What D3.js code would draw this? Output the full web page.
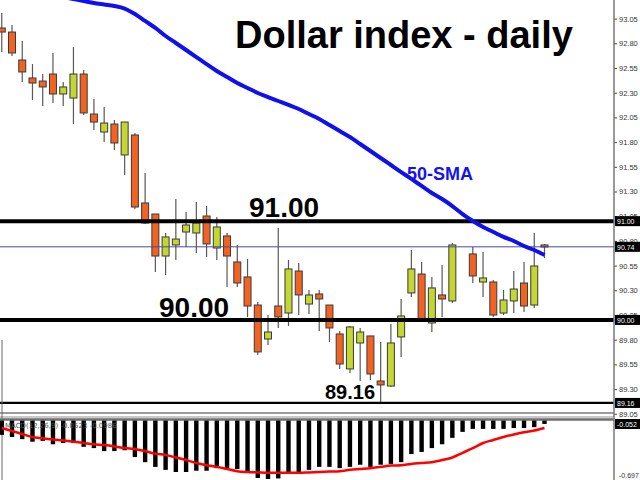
<!DOCTYPE html>
<html><head><meta charset="utf-8">
<script src="https://cdn.jsdelivr.net/npm/d3@7"></script>
<style>body{margin:0;background:#fff}svg{display:block}</style>
</head><body><svg id="c" width="640" height="480"></svg>
<script>
// ---- data (daily bars, oldest first) ----
const opens  = [92.955,92.914,92.631,92.449,92.418,92.489,92.287,92.246,92.489,92.084,91.902,91.983,91.670,91.872,91.184,91.072,90.647,90.759,90.890,90.880,91.052,90.728,90.850,90.587,90.435,90.151,89.807,90.141,90.070,90.495,90.161,90.263,90.151,89.858,89.504,89.767,89.838,89.382,89.331,89.828,90.273,90.465,89.969,90.253,90.192,90.740,90.668,90.384,90.384,90.070,90.192,90.374,90.151,90.759];
const highs  = [93.107,92.985,92.823,92.590,92.489,92.702,92.408,92.762,92.530,92.236,92.155,92.024,92.003,91.892,91.487,91.072,90.880,91.224,91.093,91.194,91.153,91.042,90.880,90.759,90.617,90.182,90.050,90.931,90.607,90.576,90.303,90.303,90.151,89.888,89.939,89.919,89.838,89.777,89.959,90.212,90.708,90.587,90.435,90.556,90.779,90.740,90.738,90.688,90.404,90.303,90.495,90.587,90.880,90.769];
const lows   = [92.712,92.671,92.408,92.226,92.165,92.196,92.165,91.983,92.074,91.922,91.801,91.720,91.467,91.123,90.971,90.485,90.455,90.607,90.738,90.678,90.637,90.607,90.334,90.334,90.030,89.645,89.747,89.919,89.939,90.050,90.060,89.888,89.777,89.504,89.463,89.382,89.392,89.160,89.321,89.625,90.233,90.010,89.878,90.030,90.172,90.740,90.374,90.233,90.030,90.050,90.070,90.080,90.121,90.627];
const closes = [92.914,92.702,92.510,92.398,92.358,92.287,92.358,92.489,92.095,92.003,91.993,91.791,92.003,91.143,90.981,90.647,90.840,90.819,90.961,90.981,90.769,90.941,90.647,90.374,90.141,89.676,89.878,90.030,90.516,90.253,90.253,90.212,89.919,89.554,89.929,89.878,89.453,89.342,89.767,90.040,90.516,90.010,90.324,90.212,90.759,90.740,90.445,90.425,90.050,90.202,90.313,90.141,90.546,90.738];
const sma50  = [null,null,null,null,null,null,93.268,93.248,93.228,93.208,93.193,93.178,93.152,93.097,93.026,92.955,92.874,92.803,92.732,92.661,92.590,92.520,92.459,92.398,92.348,92.297,92.256,92.216,92.176,92.135,92.084,92.034,91.973,91.912,91.852,91.781,91.710,91.639,91.568,91.497,91.427,91.356,91.285,91.224,91.153,91.072,91.002,90.941,90.890,90.840,90.799,90.748,90.708,90.657];
const macdMain   = [-0.18,-0.205,-0.23,-0.26,-0.25,-0.29,-0.275,-0.275,-0.32,-0.335,-0.37,-0.37,-0.36,-0.44,-0.50,-0.555,-0.59,-0.615,-0.615,-0.60,-0.60,-0.57,-0.57,-0.58,-0.625,-0.685,-0.697,-0.69,-0.625,-0.615,-0.59,-0.555,-0.555,-0.57,-0.555,-0.53,-0.555,-0.53,-0.52,-0.50,-0.405,-0.38,-0.335,-0.29,-0.215,-0.145,-0.11,-0.11,-0.11,-0.11,-0.10,-0.10,-0.09,-0.052];
const macdSignal = [-0.10,-0.135,-0.17,-0.205,-0.22,-0.235,-0.245,-0.26,-0.275,-0.29,-0.30,-0.315,-0.335,-0.345,-0.37,-0.40,-0.415,-0.445,-0.475,-0.51,-0.535,-0.555,-0.58,-0.605,-0.615,-0.62,-0.625,-0.625,-0.625,-0.625,-0.62,-0.615,-0.61,-0.605,-0.59,-0.58,-0.57,-0.555,-0.54,-0.535,-0.52,-0.51,-0.50,-0.475,-0.445,-0.39,-0.335,-0.275,-0.24,-0.205,-0.175,-0.15,-0.13,-0.10];
const priceTicks = [93.05,92.80,92.55,92.30,92.05,91.80,91.55,91.30,91.05,90.80,90.55,90.30,90.05,89.80,89.55,89.30,89.05];
const levels = [91.00, 90.00, 89.16];
const levelLabels = ["91.00", "90.00", "89.16"];
const bidPrice = 90.74;
const titleText = "Dollar index - daily";
const smaLabel = "50-SMA";
const macdLabel = "MACD(12,26,9) -0.0523 -0.0986";
const macdMin = -0.697;
const macdNow = "-0.052";

// ---- layout ----
const svg = d3.select("#c");
const axisX = 614, indTop = 419.5, indBot = 479;
const n = opens.length;
const x = d3.scaleLinear().domain([0, n - 1]).range([1.76, 544.5]);
const y = d3.scaleLinear().domain([89.05, 93.05]).range([413.8, 18.6]);
const yi = d3.scaleLinear().domain([0, macdMin]).range([indTop, indBot]);

svg.append("rect").attr("width", 640).attr("height", 480).attr("fill", "#fff");
const defs = svg.append("defs");
defs.append("clipPath").attr("id", "cm").append("rect").attr("x", 0).attr("y", 0).attr("width", axisX).attr("height", 412);
defs.append("clipPath").attr("id", "ci").append("rect").attr("x", 0).attr("y", 419).attr("width", axisX).attr("height", 61);

const main = svg.append("g").attr("clip-path", "url(#cm)");
const bars = d3.range(n).map(i => ({i, o: opens[i], h: highs[i], l: lows[i], c: closes[i]}));

// candles
const cg = main.append("g");
cg.selectAll("line.w").data(bars).join("line")
  .attr("x1", d => x(d.i)).attr("x2", d => x(d.i))
  .attr("y1", d => y(d.h)).attr("y2", d => y(d.l))
  .attr("stroke", "#585858").attr("stroke-width", 1.2);
cg.selectAll("rect.b").data(bars).join("rect")
  .attr("x", d => x(d.i) - 3.5).attr("width", 7)
  .attr("y", d => y(Math.max(d.o, d.c)))
  .attr("height", d => Math.abs(y(d.o) - y(d.c)))
  .attr("fill", d => d.c >= d.o ? "#c3d631" : "#f26322")
  .attr("stroke", "#3a3a3a").attr("stroke-width", 1);

// horizontal levels
main.selectAll("line.lv").data(levels).join("line")
  .attr("x1", 0).attr("x2", axisX)
  .attr("y1", d => y(d)).attr("y2", d => y(d))
  .attr("stroke", "#000").attr("stroke-width", (d, i) => i < 2 ? 4 : 2.2);
// bid line
main.append("line").attr("x1", 0).attr("x2", axisX)
  .attr("y1", y(bidPrice)).attr("y2", y(bidPrice))
  .attr("stroke", "#4a4a9c").attr("stroke-width", 1);

// SMA
const smaLine = d3.line().defined(d => d != null).x((d, i) => x(i)).y(d => y(d)).curve(d3.curveMonotoneX);
main.append("path").datum(sma50).attr("d", smaLine)
  .attr("fill", "none").attr("stroke", "#1010ee").attr("stroke-width", 4).attr("stroke-linejoin", "round");

// texts
svg.append("text").attr("x", 235).attr("y", 48).text(titleText)
  .attr("font-family", "Liberation Sans, Arial, sans-serif").attr("font-weight", "bold").attr("font-size", 38).attr("fill", "#000");
svg.append("text").attr("x", 407).attr("y", 180).text(smaLabel)
  .attr("font-family", "Liberation Sans, Arial, sans-serif").attr("font-weight", "bold").attr("font-size", 18).attr("fill", "#1414f0");
const lblPos = [[249, 217, 28], [159, 317, 28], [325, 399, 20]];
svg.selectAll("text.lv").data(levelLabels).join("text")
  .attr("x", (d, i) => lblPos[i][0]).attr("y", (d, i) => lblPos[i][1])
  .attr("font-size", (d, i) => lblPos[i][2])
  .attr("font-family", "Liberation Sans, Arial, sans-serif").attr("font-weight", "bold").attr("fill", "#000")
  .text(d => d);

// panel separators
svg.append("line").attr("x1", 0).attr("x2", axisX).attr("y1", 413).attr("y2", 413).attr("stroke", "#9a9a9a").attr("stroke-width", 2);
svg.append("line").attr("x1", 0).attr("x2", axisX).attr("y1", 417).attr("y2", 417).attr("stroke", "#c8c8c8").attr("stroke-width", 2);
svg.append("line").attr("x1", 2).attr("x2", 2).attr("y1", 340).attr("y2", 480).attr("stroke", "#666").attr("stroke-width", 1);

// indicator
const ind = svg.append("g").attr("clip-path", "url(#ci)");
ind.selectAll("rect").data(macdMain).join("rect")
  .attr("x", (d, i) => x(i) - 2.2).attr("width", 4.4)
  .attr("y", yi(0)).attr("height", d => yi(d) - yi(0)).attr("fill", "#000");
ind.append("path").datum(macdSignal)
  .attr("d", d3.line().x((d, i) => x(i)).y(d => yi(d)).curve(d3.curveMonotoneX))
  .attr("fill", "none").attr("stroke", "#ff0000").attr("stroke-width", 2.5);
svg.append("line").attr("x1", 0).attr("x2", axisX).attr("y1", 419.5).attr("y2", 419.5).attr("stroke", "#6e6e6e").attr("stroke-width", 2.5);
svg.append("text").attr("x", 5).attr("y", 428).text(macdLabel)
  .attr("font-family", "DejaVu Sans, sans-serif").attr("font-size", 7).attr("fill", "#555");

// right axis
const ax = svg.append("g").attr("transform", `translate(${axisX},0)`)
  .call(d3.axisRight(y).tickValues(priceTicks).tickSize(3).tickPadding(2).tickFormat(d3.format(".2f")));
ax.select(".domain").remove();
ax.selectAll("line").attr("stroke", "#444");
ax.selectAll("text").attr("font-family", "Liberation Sans, Arial, sans-serif").attr("font-size", 7.5).attr("fill", "#333");
svg.append("line").attr("x1", axisX).attr("x2", axisX).attr("y1", 0).attr("y2", 480).attr("stroke", "#777").attr("stroke-width", 1.5);

// value boxes
const boxes = [[y(91.00), "91.00"], [y(bidPrice), bidPrice.toFixed(2)], [y(90.00), "90.00"], [y(89.16), "89.16"], [424, macdNow]];
const bx = svg.selectAll("g.bx").data(boxes).join("g").attr("transform", d => `translate(${axisX + 1},${d[0]})`);
bx.append("rect").attr("x", 0).attr("y", -5).attr("width", 25).attr("height", 10).attr("fill", "#000");
bx.append("text").attr("x", 2).attr("y", 3).text(d => d[1])
  .attr("font-family", "Liberation Sans, Arial, sans-serif").attr("font-size", 7).attr("fill", "#fff");
svg.append("text").attr("x", 619).attr("y", 478).text(macdMin.toFixed(3))
  .attr("font-family", "Liberation Sans, Arial, sans-serif").attr("font-size", 7).attr("fill", "#333");
</script></body></html>
